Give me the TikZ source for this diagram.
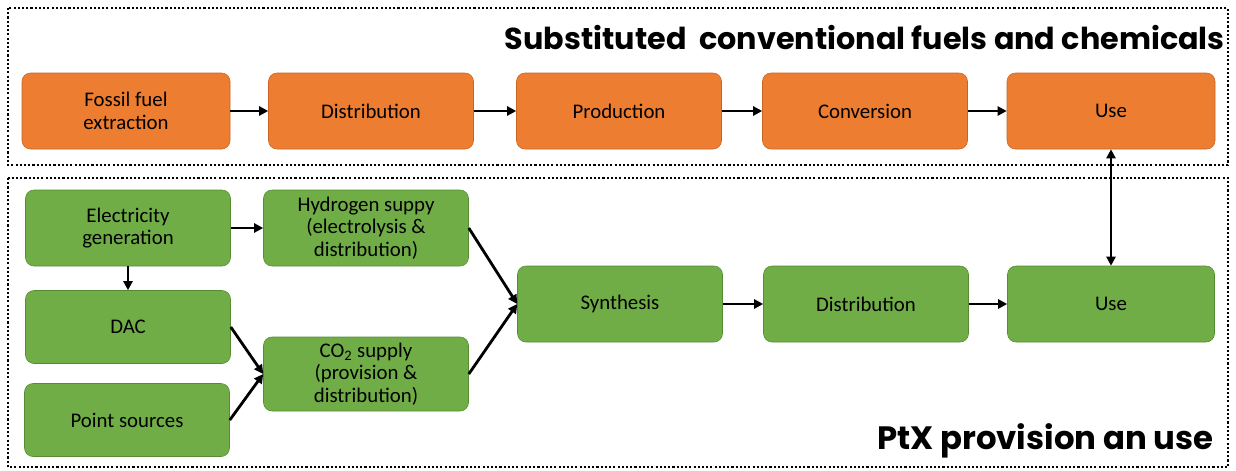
\documentclass[tikz,border=0pt]{standalone}
\usepackage{fontspec}
\setmainfont{Carlito}
\newfontfamily\titlefont{Poppins}
\usetikzlibrary{arrows.meta}

\begin{document}
\begin{tikzpicture}[x=0.025cm, y=-0.025cm,
  stepbox/.style={rounded corners=6pt, minimum width=205*0.025cm, minimum height=76*0.025cm,
    inner sep=0pt, align=center, font=\fontsize{14.8}{16}\selectfont},
  fossil/.style={stepbox, fill={rgb,255:red,237;green,125;blue,49}, draw={rgb,255:red,200;green,100;blue,35}},
  ptx/.style={stepbox, fill={rgb,255:red,112;green,173;blue,71}, draw={rgb,255:red,85;green,140;blue,50}},
  frame/.style={line width=1.6pt, dash pattern=on 1.5pt off 1.5pt},
  flow/.style={line width=2pt, -{Triangle[length=6.5pt,width=6.5pt]}},
  heading/.style={anchor=east, inner sep=0pt, font=\titlefont\bfseries\fontsize{21.5}{24}\selectfont}]
\useasboundingbox (0,0) rectangle (1236,470);

% frames
\draw[frame] (8,8) rectangle (1228,165);
\draw[frame] (8,178) rectangle (1228,467);
\node[heading] (subst) at (1225,38) {Substituted\ \ conventional fuels and chemicals};
\node[heading, font=\titlefont\bfseries\fontsize{23}{26}\selectfont] (ptxtitle) at (1214,441) {PtX provision an use};

% conventional chain
\node[fossil, minimum width=208*0.025cm] (extract) at (126,111) {Fossil fuel\\extraction};
\node[fossil] (distconv) at (371,111) {Distribution};
\node[fossil] (prod) at (619,111) {Production};
\node[fossil] (conv) at (865,111) {Conversion};
\node[fossil, minimum width=208*0.025cm] (useconv) at (1111,111) {Use};

% PtX chain
\node[ptx] (elec) at (128,228) {Electricity\\generation};
\node[ptx] (hyd) at (366,228) {Hydrogen suppy\\(electrolysis \&\\distribution)};
\node[ptx, minimum height=73*0.025cm] (dac) at (128,327) {DAC};
\node[ptx, minimum height=73*0.025cm] (point) at (127,420) {Point sources};
\node[ptx, minimum height=74*0.025cm] (co2) at (366,374) {CO\textsubscript{2} supply\\(provision \&\\distribution)};
\node[ptx] (synth) at (620,304) {Synthesis};
\node[ptx] (distptx) at (866,304) {Distribution};
\node[ptx, minimum width=207*0.025cm] (useptx) at (1111,304) {Use};

\draw[flow] (extract) -- (distconv);
\draw[flow] (distconv) -- (prod);
\draw[flow] (prod) -- (conv);
\draw[flow] (conv) -- (useconv);

\draw[flow] (elec) -- (hyd);
\draw[flow] (elec) -- (dac);
\draw[flow] (dac.east) -- (co2.west);
\draw[flow] (point.east) -- (co2.west);
\draw[flow] (hyd.east) -- (synth.west);
\draw[flow] (co2.east) -- (synth.west);
\draw[flow] (synth) -- (distptx);
\draw[flow] (distptx) -- (useptx);
\draw[flow, {Triangle[length=6.5pt,width=6.5pt]}-{Triangle[length=6.5pt,width=6.5pt]}] (useptx) -- (useconv);
\end{tikzpicture}
\end{document}
